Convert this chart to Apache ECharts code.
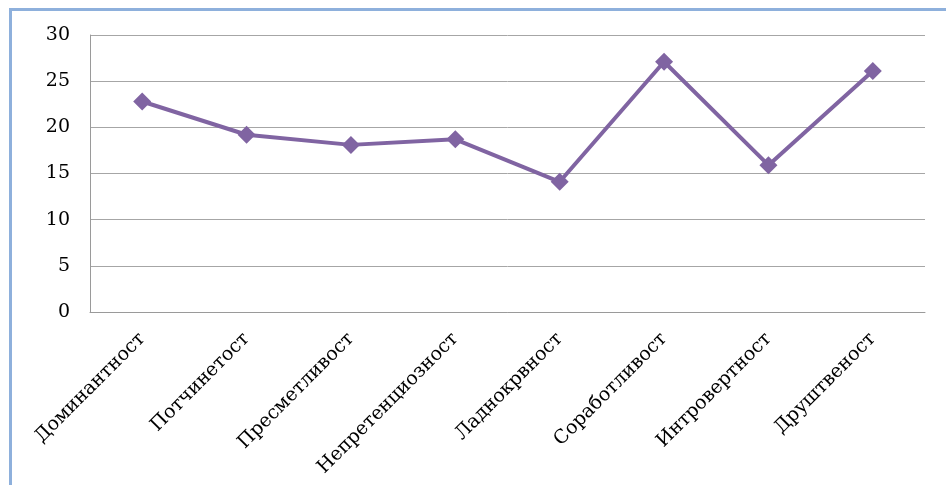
<!DOCTYPE html>
<html>
<head>
<meta charset="utf-8">
<script src="https://cdn.jsdelivr.net/npm/echarts@6/dist/echarts.min.js"></script>
<style>
  html, body { margin: 0; padding: 0; background: #fff; }
  #frame { position: absolute; left: 9px; top: 8px; width: 937px; height: 477px;
           border-top: 3px solid #8eb0dc; border-left: 3px solid #8eb0dc; }
  #main { position: absolute; left: 0; top: 0; width: 946px; height: 485px; }
</style>
</head>
<body>
<div id="frame"></div>
<div id="main"></div>
<script>
// категории и вредности
var categories = ['Доминантност', 'Потчинетост', 'Пресметливост', 'Непретенциозност',
    'Ладнокрвност', 'Соработливост', 'Интровертност', 'Друштвеност'];
var values = [22.8, 19.2, 18.1, 18.7, 14.1, 27.1, 15.9, 26.1];
var yTicks = [0, 5, 10, 15, 20, 25, 30];

var chartDom = document.getElementById('main');
var myChart = echarts.init(chartDom);
var option;

option = {
    animation: false,
    grid: {
        left: 90,
        right: 21,
        top: 35,
        bottom: 173
    },
    xAxis: {
        type: 'category',
        data: categories,
        boundaryGap: true,
        axisLine: { lineStyle: { color: '#9a9a9a', width: 1 } },
        axisTick: { show: false },
        axisLabel: {
            rotate: 45,
            interval: 0,
            margin: 24,
            color: '#000',
            fontFamily: 'DejaVu Serif',
            fontSize: 19
        }
    },
    yAxis: {
        type: 'value',
        min: yTicks[0],
        max: yTicks[yTicks.length - 1],
        interval: 5,
        axisLine: { show: true, lineStyle: { color: '#9a9a9a', width: 1 } },
        axisTick: { show: false },
        splitLine: { lineStyle: { color: '#a6a6a6', width: 1 } },
        axisLabel: {
            margin: 20,
            color: '#000',
            fontFamily: 'DejaVu Serif',
            fontSize: 19
        }
    },
    series: [{
        type: 'line',
        data: values,
        symbol: 'diamond',
        symbolSize: 18,
        lineStyle: { color: '#8064a2', width: 4 },
        itemStyle: { color: '#8064a2' }
    }]
};

option && myChart.setOption(option);
</script>
</body>
</html>
